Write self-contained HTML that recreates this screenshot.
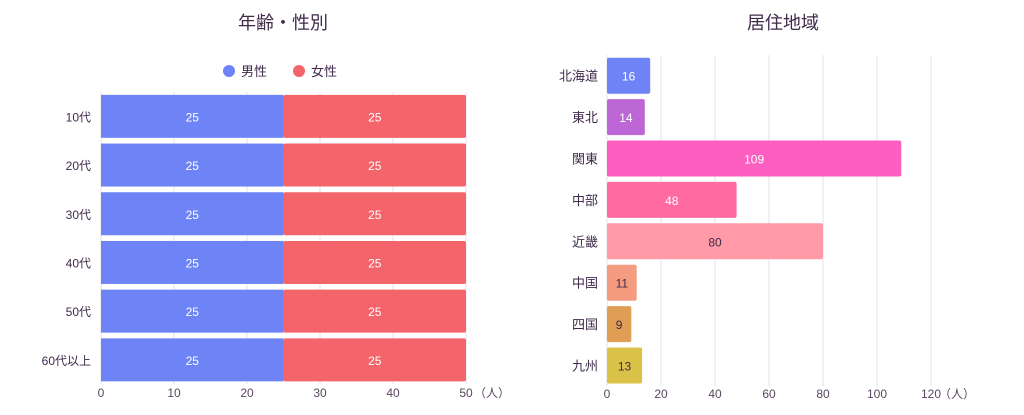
<!DOCTYPE html>
<html><head><meta charset="utf-8"><style>
body{margin:0;background:#fff;width:1024px;height:410px;overflow:hidden;font-family:"Liberation Sans","Noto Sans CJK JP",sans-serif;}
svg text{font-family:"Liberation Sans","Noto Sans CJK JP",sans-serif;}
</style></head><body>
<svg id="c" width="1024" height="410">
<text x="283" y="29" text-anchor="middle" font-size="18" fill="#3f2a4a">年齢・性別</text>
<text x="783" y="29" text-anchor="middle" font-size="18" fill="#3f2a4a">居住地域</text>
<g>
<circle cx="229" cy="71" r="6" fill="#6e84f6"/>
<text x="241" y="76" font-size="13" fill="#3f2a4a">男性</text>
<circle cx="299" cy="71" r="6" fill="#f4646b"/>
<text x="311" y="76" font-size="13" fill="#3f2a4a">女性</text>
</g>
<g id="L"></g><g id="R"></g>
</svg>
<script>
const ageCats=["10代","20代","30代","40代","50代","60代以上"];
const male=[25,25,25,25,25,25];
const female=[25,25,25,25,25,25];
const ageTicks=[0,10,20,30,40,50];
const regions=["北海道","東北","関東","中部","近畿","中国","四国","九州"];
const regionVals=[16,14,109,48,80,11,9,13];
const regionColors=["#6e84f6","#bd67d6","#fc5fbf","#ff6ba1","#ff9aa6","#f59b80","#e09d54","#d9c247"];
const regionTextColors=["#fff","#fff","#fff","#fff","#3f2a4a","#3f2a4a","#3f2a4a","#3f2a4a"];
const regionTicks=[0,20,40,60,80,100,120];
const NS="http://www.w3.org/2000/svg";
function mk(p,t,a,txt){const e=document.createElementNS(NS,t);for(const k in a)e.setAttribute(k,a[k]);if(txt!=null)e.textContent=txt;p.appendChild(e);return e;}
// left
const L=document.getElementById('L');
const lx=v=>101+v*7.3, lTop=92, lBand=48.7, lH=43;
ageTicks.forEach(t=>{const g=mk(L,'line',{x1:lx(t),x2:lx(t),y1:lTop,y2:384,stroke:'#e4e0e8'});


const tx=mk(L,'text',{x:lx(t),y:397,'text-anchor':'middle','font-size':12,fill:'#5a4660'},t);

});
const lu=mk(L,'text',{x:lx(50)+8,y:397,'font-size':12,fill:'#5a4660'},'（人）');


ageCats.forEach((c,i)=>{const y=lTop+i*lBand+(lBand-lH)/2;
const a=mk(L,'rect',{x:lx(0),y:y,width:lx(male[i])-lx(0),height:lH,fill:'#6e84f6'});


const b=mk(L,'rect',{x:lx(male[i]),y:y,width:lx(male[i]+female[i])-lx(male[i]),height:lH,fill:'#f4646b',rx:2});


const t1=mk(L,'text',{x:(lx(0)+lx(male[i]))/2,y:y+lH/2+5,'text-anchor':'middle','font-size':12,fill:'#fff'},male[i]);


const t2=mk(L,'text',{x:(lx(male[i])+lx(male[i]+female[i]))/2,y:y+lH/2+5,'text-anchor':'middle','font-size':12,fill:'#fff'},female[i]);


const cl=mk(L,'text',{x:91,y:y+lH/2+5,'text-anchor':'end','font-size':12,fill:'#3f2a4a'},c);

});
// right
const R=document.getElementById('R');
const rx=v=>607+v*2.7, rTop=55, rBand=41.4, rH=36;
regionTicks.forEach(t=>{const g=mk(R,'line',{x1:rx(t),x2:rx(t),y1:rTop,y2:386,stroke:'#e4e0e8'});


const tx=mk(R,'text',{x:rx(t),y:398,'text-anchor':'middle','font-size':12,fill:'#5a4660'},t);

});
const ru=mk(R,'text',{x:rx(120)+8,y:398,'font-size':12,fill:'#5a4660'},'（人）');


regions.forEach((c,i)=>{const y=rTop+i*rBand+(rBand-rH)/2;
const b=mk(R,'rect',{x:rx(0),y:y,width:rx(regionVals[i])-rx(0),height:rH,fill:regionColors[i],rx:2});


const t=mk(R,'text',{x:(rx(0)+rx(regionVals[i]))/2,y:y+rH/2+5,'text-anchor':'middle','font-size':12,fill:regionTextColors[i]},regionVals[i]);


const cl=mk(R,'text',{x:598,y:y+rH/2+5,'text-anchor':'end','font-size':13,fill:'#3f2a4a'},c);

});
</script>
</body></html>
